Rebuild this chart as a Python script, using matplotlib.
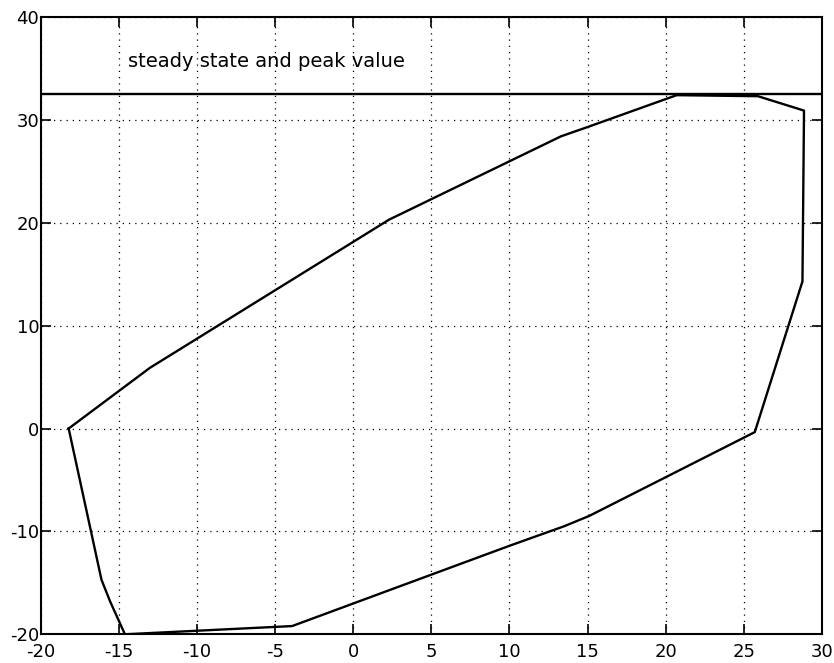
import numpy as np
import matplotlib
matplotlib.use("Agg")
import matplotlib.pyplot as plt

# closed curve
curve_x = [-18.2, -13.0, 2.3, 13.3, 15.0, 20.7, 25.9, 28.85, 28.75, 25.7,
           15.1, 13.5, 10.0, -3.9, -14.6, -15.55, -16.1, -18.2]
curve_y = [0.0, 5.9, 20.3, 28.4, 29.3, 32.4, 32.3, 30.9, 14.3, -0.35,
           -8.5, -9.5, -11.4, -19.2, -20.0, -16.8, -14.7, 0.0]
peak = 32.5
label = "steady state and peak value"

xticks = [-20, -15, -10, -5, 0, 5, 10, 15, 20, 25, 30]
yticks = [-20, -10, 0, 10, 20, 30, 40]

plt.rcParams['font.family'] = ['DejaVu Sans']
plt.rcParams['axes.unicode_minus'] = False

fig = plt.figure(figsize=(8.34, 6.63), dpi=100)
ax = fig.add_axes([0.0486, 0.0433, 0.937, 0.9311])

ax.plot(curve_x, curve_y, color='black', lw=1.7)
ax.axhline(peak, color='black', lw=1.7)
ax.text(-14.4, 35.7, label, fontsize=14, va='center', ha='left')

ax.set_xlim(-20, 30)
ax.set_ylim(-20, 40)
ax.set_xticks(xticks)
ax.set_yticks(yticks)
ax.grid(True, color='black', linestyle=(0, (1, 4)), lw=0.9)
ax.tick_params(direction='in', length=7, width=1.2, labelsize=13,
               top=True, right=True)
ax.tick_params(axis='x', pad=6)
ax.tick_params(axis='y', pad=1)
for s in ax.spines.values():
    s.set_linewidth(1.5)

fig.savefig("out.png", dpi=100)
